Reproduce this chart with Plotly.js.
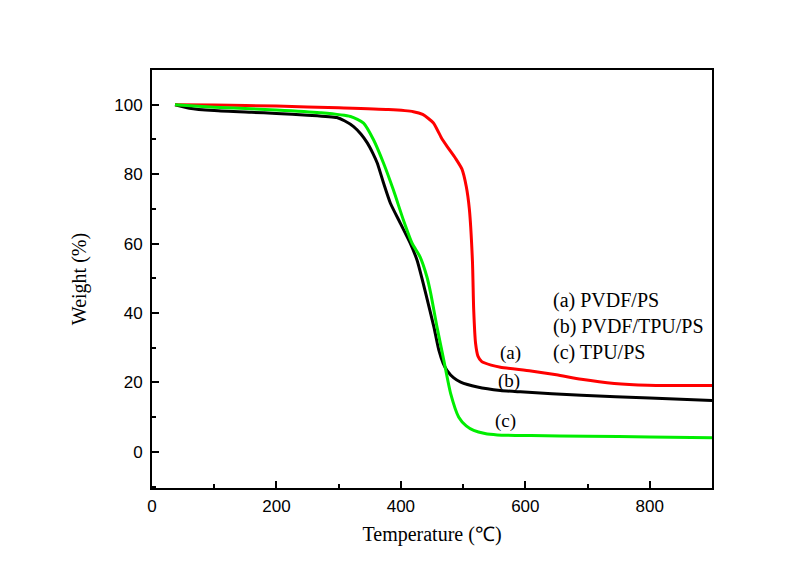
<!DOCTYPE html>
<html>
<head>
<meta charset="utf-8">
<script src="https://cdn.plot.ly/plotly-3.0.1.min.js"></script>
<style>html,body{margin:0;padding:0;background:#fff}#chart{width:811px;height:575px}</style>
</head>
<body>
<div id="chart"></div>
<script>
// Series (a) PVDF/PS
const tempA = [37, 100, 200, 300, 380, 420, 435, 452, 465, 475, 488, 498, 505, 510, 515, 517, 520, 524, 530, 545, 560, 609, 650, 690, 743, 797, 900];
const weightA = [100, 99.9, 99.6, 99.1, 98.6, 98, 97.2, 94.8, 90.5, 87.8, 84.5, 81.5, 76.5, 70, 55, 41, 31.3, 27.5, 26, 25, 24.4, 23.3, 22.2, 20.9, 19.7, 19.2, 19.1];
// Series (b) PVDF/TPU/PS
const tempB = [37, 60, 100, 160, 200, 250, 297, 310, 324, 336, 346, 355, 362, 372, 383, 399, 415, 426, 440, 453, 461, 468, 474, 485, 496, 523, 560, 592, 690, 800, 900];
const weightB = [100, 99, 98.3, 97.8, 97.5, 97, 96.3, 95.3, 93.7, 91.5, 89, 86, 83.2, 77.5, 71.7, 65.9, 60.1, 55.2, 45.6, 36, 29.3, 25.5, 23.5, 21.3, 20.1, 18.7, 17.7, 17.3, 16.3, 15.5, 14.8];
// Series (c) TPU/PS
const tempC = [37, 100, 200, 270, 319, 340, 356, 372, 388, 404, 418, 431, 442, 448, 458, 469, 480, 493, 505, 517, 535, 555, 609, 700, 800, 900];
const weightC = [100, 99.3, 98.5, 97.7, 96.6, 94.7, 89.9, 83.2, 75.4, 66.8, 60.1, 56.1, 50.3, 45.6, 36, 26.4, 16.8, 10, 7.5, 6.2, 5.3, 4.9, 4.7, 4.5, 4.3, 4.1];

const seriesNames = ['(a) PVDF/PS', '(b) PVDF/TPU/PS', '(c) TPU/PS'];
const curveLabels = ['(a)', '(b)', '(c)'];
const xTickVals = [0, 200, 400, 600, 800];
const yTickVals = [0, 20, 40, 60, 80, 100];

const serif = 'Liberation Serif, Times New Roman, serif';
const sans = 'Liberation Sans, Arial, sans-serif';

const lineStyle = c => ({color: c, width: 3, shape: 'spline', smoothing: 0.6});
const traces = [
  {x: tempB, y: weightB, name: seriesNames[1], mode: 'lines', line: lineStyle('#000000')},
  {x: tempA, y: weightA, name: seriesNames[0], mode: 'lines', line: lineStyle('#ff0000')},
  {x: tempC, y: weightC, name: seriesNames[2], mode: 'lines', line: lineStyle('#00ee00')}
];

const curveLabelPos = [[576, 28.4], [573, 20.3], [568, 8.8]];
const legendPos = [[642, 43.7], [642, 36.2], [642, 28.7]];
const annotations = [];
curveLabels.forEach((t, i) => annotations.push({
  x: curveLabelPos[i][0], y: curveLabelPos[i][1], xref: 'x', yref: 'y', text: t,
  showarrow: false, font: {family: serif, size: 19, color: '#000'}
}));
seriesNames.forEach((t, i) => annotations.push({
  x: legendPos[i][0], y: legendPos[i][1], xref: 'x', yref: 'y', text: t, xanchor: 'left',
  showarrow: false, font: {family: serif, size: 20, color: '#000'}
}));

const axisCommon = {
  showline: true, linecolor: '#000', linewidth: 2, mirror: true,
  ticks: 'inside', ticklen: 7, tickwidth: 2, tickcolor: '#000',
  showgrid: false, zeroline: false,
  tickfont: {family: sans, size: 17, color: '#000'},
  ticklabelstandoff: 4
};

const layout = {
  width: 811, height: 575,
  margin: {l: 152, r: 99, t: 70, b: 87},
  paper_bgcolor: '#ffffff', plot_bgcolor: '#ffffff',
  showlegend: false,
  xaxis: Object.assign({}, axisCommon, {
    range: [0, 900], tickmode: 'array', tickvals: xTickVals,
    ticklabelstandoff: 2,
    minor: {dtick: 100, tick0: 0, ticks: 'inside', ticklen: 4, tickwidth: 2, tickcolor: '#000'},
    title: {text: 'Temperature (℃)', font: {family: serif, size: 20, color: '#000'}, standoff: 12}
  }),
  yaxis: Object.assign({}, axisCommon, {
    range: [-10.4, 110], tickmode: 'array', tickvals: yTickVals,
    minor: {dtick: 10, tick0: 0, ticks: 'inside', ticklen: 4, tickwidth: 2, tickcolor: '#000'},
    title: {text: 'Weight (%)', font: {family: serif, size: 20, color: '#000'}, standoff: 22}
  }),
  annotations: annotations
};

Plotly.newPlot('chart', traces, layout, {displayModeBar: false, staticPlot: true});
</script>
</body>
</html>
